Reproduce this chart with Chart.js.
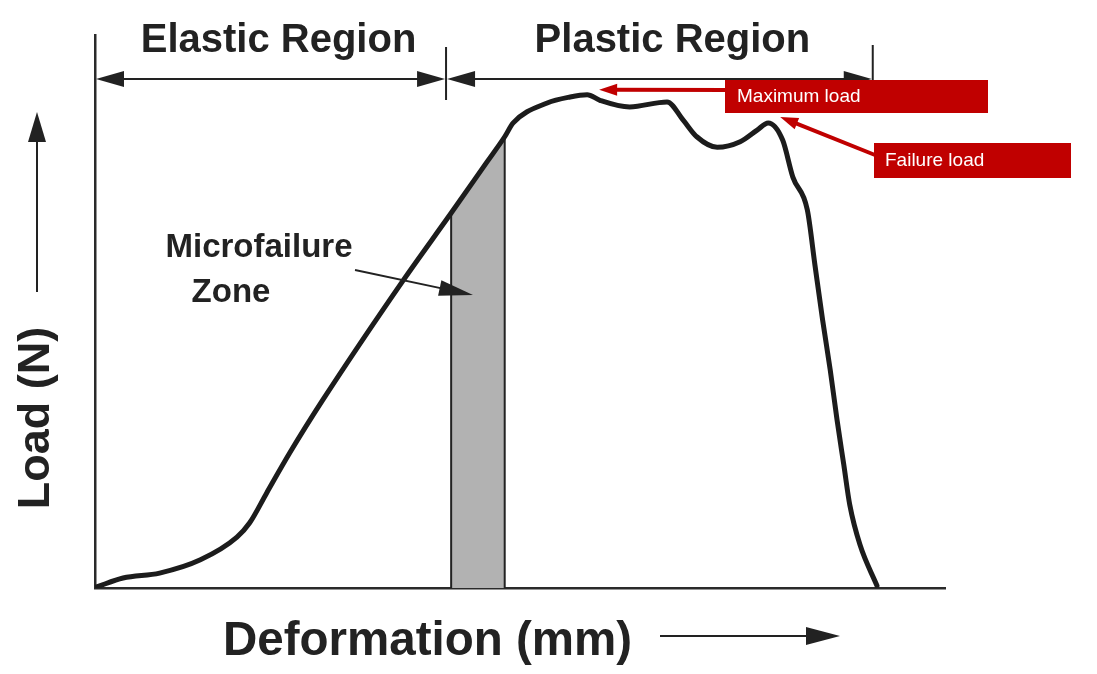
<!DOCTYPE html>
<html>
<head>
<meta charset="utf-8">
<script src="https://cdn.jsdelivr.net/npm/chart.js@4/dist/chart.umd.min.js"></script>
<style>
    html, body { margin: 0; padding: 0; background: #fff; }
    #wrap { width: 1097px; height: 674px; }
</style>
</head>
<body>
<div id="wrap"><canvas id="chart" width="1097" height="674"></canvas></div>
<script>
// load-deformation curve, arbitrary units (0-100 on both axes)
const deformation = [0.2, 3.3, 7.6, 12.4, 16.7, 18.2, 20.2, 22.9, 26.8, 36.2, 41.9, 46.1, 48.2,
    49.2, 53.2, 55.9, 57.9, 59.4, 62.9, 67.3, 69.2, 70.8, 73.2, 75.9, 77.9, 79.2, 80.9,
    82.1, 83.8, 84.7, 85.6, 86.5, 87.3, 88.1, 88.8, 90.0, 92.0];
const load = [0.2, 1.8, 2.7, 5.1, 9.2, 11.8, 17.2, 24.4, 34.0, 55.5, 67.8, 77.0, 81.6,
    84.1, 87.7, 88.8, 89.2, 88.2, 87.0, 87.9, 84.6, 81.6, 79.7, 80.7, 82.8, 84.1, 81.0,
    74.3, 68.4, 58.4, 48.5, 39.4, 30.4, 22.2, 15.0, 7.8, 0.4];

// microfailure zone (shaded band under the curve)
const zoneX = [41.9, 41.9, 46.1, 48.2, 48.2];
const zoneY = [0, 67.8, 77.0, 81.6, 0];

// regions along the deformation axis
const regionNames = ['Elastic Region', 'Plastic Region'];
const regionEdges = [0, 41.3, 91.5];

const maxLoadIdx = 16;
const failureIdx = 25;

const INK = '#222';
const RED = '#c00000';

function arrowHead(ctx, x, y, angle, len, half) {
    ctx.save();
    ctx.translate(x, y);
    ctx.rotate(angle);
    ctx.beginPath();
    ctx.moveTo(0, 0);
    ctx.lineTo(-len, -half);
    ctx.lineTo(-len, half);
    ctx.closePath();
    ctx.fill();
    ctx.restore();
}

function arrow(ctx, x0, y0, x1, y1, width, len, half) {
    const a = Math.atan2(y1 - y0, x1 - x0);
    ctx.lineWidth = width;
    ctx.beginPath();
    ctx.moveTo(x0, y0);
    ctx.lineTo(x1 - Math.cos(a) * len * 0.8, y1 - Math.sin(a) * len * 0.8);
    ctx.stroke();
    arrowHead(ctx, x1, y1, a, len, half);
}

const annotations = {
    id: 'annotations',
    afterDraw(chart) {
        const ctx = chart.ctx;
        const xs = chart.scales.x;
        const ys = chart.scales.y;
        ctx.save();
        ctx.fillStyle = INK;
        ctx.strokeStyle = INK;

        // region dimension arrows
        const barY = 79;
        const edges = regionEdges.map(v => xs.getPixelForValue(v));
        ctx.lineWidth = 2;
        ctx.beginPath();
        ctx.moveTo(edges[1], 47); ctx.lineTo(edges[1], 100);
        ctx.moveTo(edges[2], 45); ctx.lineTo(edges[2], 80);
        ctx.stroke();
        ctx.font = 'bold 40px "Liberation Sans", Arial, sans-serif';
        ctx.textAlign = 'center';
        ctx.textBaseline = 'alphabetic';
        const labelShift = [8, 13];
        for (let i = 0; i < regionNames.length; i++) {
            const a = edges[i], b = edges[i + 1];
            ctx.lineWidth = 2;
            ctx.beginPath();
            ctx.moveTo(a + 20, barY); ctx.lineTo(b - 20, barY);
            ctx.stroke();
            arrowHead(ctx, a + 1, barY, Math.PI, 28, 8);
            arrowHead(ctx, b - 1, barY, 0, 28, 8);
            ctx.fillText(regionNames[i], (a + b) / 2 + labelShift[i], 52);
        }

        // axis titles with direction arrows
        ctx.save();
        ctx.translate(49, 418);
        ctx.rotate(-Math.PI / 2);
        ctx.font = 'bold 45px "Liberation Sans", Arial, sans-serif';
        ctx.textAlign = 'center';
        ctx.fillText('Load (N)', 0, 0);
        ctx.restore();
        arrow(ctx, 37, 292, 37, 112, 2, 30, 9);

        ctx.font = 'bold 47.5px "Liberation Sans", Arial, sans-serif';
        ctx.textAlign = 'left';
        ctx.fillText('Deformation (mm)', 223, 655);
        arrow(ctx, 660, 636, 840, 636, 2, 34, 9);

        // microfailure zone label
        ctx.font = 'bold 33px "Liberation Sans", Arial, sans-serif';
        ctx.textAlign = 'center';
        ctx.fillText('Microfailure', 259, 257);
        ctx.fillText('Zone', 231, 302);
        arrow(ctx, 355, 270, 473, 295, 2, 34, 8);

        // red callouts
        const peakX = xs.getPixelForValue(deformation[maxLoadIdx]);
        const peakY = ys.getPixelForValue(load[maxLoadIdx]);
        const failX = xs.getPixelForValue(deformation[failureIdx]);
        const failY = ys.getPixelForValue(load[failureIdx]);
        ctx.fillStyle = RED;
        ctx.strokeStyle = RED;
        ctx.fillRect(725, 80, 263, 33);
        ctx.fillRect(874, 143, 197, 35);
        arrow(ctx, 726, 90, peakX + 12, peakY - 5, 4, 18, 6);
        arrow(ctx, 875, 155, failX + 12, failY - 6, 4, 18, 6);
        ctx.fillStyle = '#fff';
        ctx.font = '19px "Liberation Sans", Arial, sans-serif';
        ctx.textAlign = 'left';
        ctx.textBaseline = 'middle';
        ctx.fillText('Maximum load', 737, 97);
        ctx.fillText('Failure load', 885, 161);
        ctx.restore();
    }
};

const ctx = document.getElementById('chart');
new Chart(ctx, {
    type: 'scatter',
    data: {
        datasets: [
            {
                label: 'Load',
                data: deformation.map((x, i) => ({ x, y: load[i] })),
                showLine: true,
                borderColor: '#1c1c1c',
                borderWidth: 5,
                borderJoinStyle: 'round',
                borderCapStyle: 'round',
                cubicInterpolationMode: 'monotone',
                pointRadius: 0,
                fill: false,
                order: 0
            },
            {
                label: 'Microfailure Zone',
                data: zoneX.map((x, i) => ({ x, y: zoneY[i] })),
                showLine: true,
                borderColor: '#222',
                borderWidth: 2,
                backgroundColor: '#b2b2b2',
                pointRadius: 0,
                tension: 0,
                fill: 'origin',
                order: 1
            }
        ]
    },
    options: {
        responsive: false,
        animation: false,
        layout: { padding: { left: 95, right: 152, top: 35, bottom: 86 } },
        plugins: {
            legend: { display: false },
            tooltip: { enabled: false }
        },
        scales: {
            x: {
                type: 'linear',
                min: 0,
                max: 100,
                grid: { display: false, drawTicks: false },
                ticks: { display: false },
                border: { display: true, color: '#2a2a2a', width: 2.5 }
            },
            y: {
                type: 'linear',
                min: 0,
                max: 100,
                grid: { display: false, drawTicks: false },
                ticks: { display: false },
                border: { display: true, color: '#2a2a2a', width: 2.5 }
            }
        }
    },
    plugins: [annotations]
});
</script>
</body>
</html>
